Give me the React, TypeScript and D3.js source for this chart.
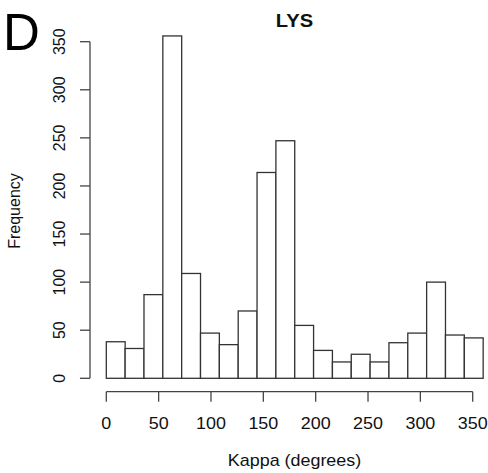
import React from 'react';
import * as d3 from 'd3';

// histogram of kappa angles, 18 degree bins
const binEdges = [0, 18, 36, 54, 72, 90, 108, 126, 144, 162, 180, 198, 216, 234, 252, 270, 288, 306, 324, 342, 360];
const counts = [38, 31, 87, 356, 109, 47, 35, 70, 214, 247, 55, 29, 17, 25, 17, 37, 47, 100, 45, 42];
const xTicks = [0, 50, 100, 150, 200, 250, 300, 350];
const yTicks = [0, 50, 100, 150, 200, 250, 300, 350];

const W = 488;
const H = 473;
const font = '"Liberation Sans", Arial, Helvetica, sans-serif';
const stretch = 1.12; // the picture is a bit wider than tall

const x = d3.scaleLinear().domain([0, 350]).range([106.3, 472.7]);
const y = d3.scaleLinear().domain([0, 350]).range([378.3, 41.7]);

const axisY = 90;
const axisX = 391.7;
const tick = 10;

function HText({ x, y, size, weight, children }: any) {
    return (
        <text
            transform={`translate(${x},${y}) scale(${stretch},1)`}
            textAnchor="middle"
            fontFamily={font}
            fontSize={size}
            fontWeight={weight || 'normal'}
            fill="#111"
        >
            {children}
        </text>
    );
}

export default function App() {
    const bars = counts.map((c, i) => ({ x0: binEdges[i], x1: binEdges[i + 1], count: c }));
    return (
        <svg width={W} height={H} style={{ position: 'absolute', left: 0, top: 0, background: '#fff' }}>
            <rect width={W} height={H} fill="#fff" />

            {/* bars */}
            <g>
                {bars.map((b, i) => (
                    <rect
                        key={i}
                        x={x(b.x0)}
                        y={y(b.count)}
                        width={x(b.x1) - x(b.x0)}
                        height={y(0) - y(b.count)}
                        fill="#fff"
                        stroke="#333"
                        strokeWidth={1.3}
                    />
                ))}
            </g>

            {/* x axis */}
            <g stroke="#444" strokeWidth={1.3}>
                <line x1={x(xTicks[0])} x2={x(xTicks[xTicks.length - 1])} y1={axisX} y2={axisX} />
                {xTicks.map(t => (
                    <line key={t} x1={x(t)} x2={x(t)} y1={axisX} y2={axisX + tick} />
                ))}
            </g>
            {xTicks.map(t => (
                <HText key={t} x={x(t)} y={428.5} size={16}>{t}</HText>
            ))}
            <HText x={294.5} y={466} size={16}>Kappa (degrees)</HText>

            {/* y axis */}
            <g stroke="#444" strokeWidth={1.3}>
                <line x1={axisY} x2={axisY} y1={y(yTicks[0])} y2={y(yTicks[yTicks.length - 1])} />
                {yTicks.map(t => (
                    <line key={t} x1={axisY - tick} x2={axisY} y1={y(t)} y2={y(t)} />
                ))}
            </g>
            {yTicks.map(t => (
                <text
                    key={t}
                    transform={`translate(65,${y(t)}) rotate(-90)`}
                    textAnchor="middle"
                    fontFamily={font}
                    fontSize={16}
                    fill="#111"
                >
                    {t}
                </text>
            ))}
            <text
                transform={`translate(20,211) rotate(-90)`}
                textAnchor="middle"
                fontFamily={font}
                fontSize={16}
                fill="#111"
            >
                Frequency
            </text>

            {/* title and panel letter */}
            <HText x={294.5} y={27} size={18} weight="bold">LYS</HText>
            <text x={3} y={50} fontFamily={font} fontSize={51} fill="#000">D</text>
        </svg>
    );
}
